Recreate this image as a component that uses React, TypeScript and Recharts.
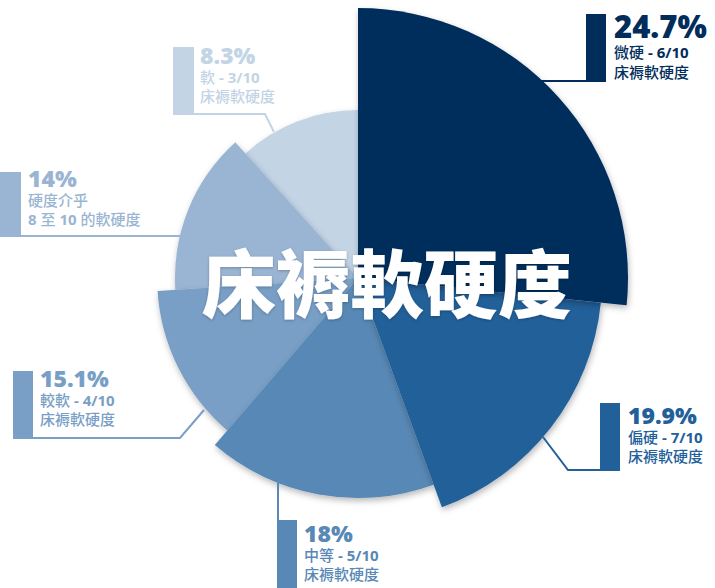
import { FC } from 'react'
import { Cell, Pie, PieChart } from 'recharts'

// slices, clockwise from 12 o'clock
const PERCENT = [24.7, 19.9, 18, 15.1, 14, 8.3]
// angle each slice takes in the drawing (degrees)
const SWEEP = [95.8, 64.1, 60.7, 45.7, 51.6, 42.1]
// relative reach of each slice (largest = 1)
const REACH = [1, 0.904, 0.815, 0.744, 0.678, 0.622]
const LINE1 = ['微硬 - 6/10', '偏硬 - 7/10', '中等 - 5/10', '較軟 - 4/10', '硬度介乎', '軟 - 3/10']
const LINE2 = ['床褥軟硬度', '床褥軟硬度', '床褥軟硬度', '床褥軟硬度', '8 至 10 的軟硬度', '床褥軟硬度']
const TITLE = '床褥軟硬度'

const COLORS = ['#012d5b', '#22609a', '#5888b5', '#799fc6', '#9ab5d3', '#c3d4e5']

const W = 715
const H = 588
const CX = 358
const CY = 278
const MAX_R = 270

interface ILayout {
	bar: [number, number, number, number]
	tx: number
	base: number
	size: number
	leader: [number, number][]
}

const LAYOUT: ILayout[] = [
	{ bar: [586, 14, 20, 68], tx: 614, base: 38, size: 31, leader: [[540, 81], [587, 81]] },
	{ bar: [600, 403, 20, 68], tx: 628, base: 424, size: 23, leader: [[543, 437], [568, 470], [601, 470]] },
	{ bar: [277, 520, 20, 70], tx: 304, base: 542, size: 23, leader: [[278, 483], [278, 521]] },
	{ bar: [13, 371, 20, 68], tx: 40, base: 387, size: 23, leader: [[204, 410], [180, 438], [14, 438]] },
	{ bar: [0, 172, 21, 65], tx: 28, base: 187, size: 23, leader: [[180, 236], [1, 236]] },
	{ bar: [173, 47, 21, 68], tx: 200, base: 64, size: 23, leader: [[274, 132], [265, 114], [174, 114]] },
]

const rows = PERCENT.map((p, i) => ({ name: `${p}%`, sweep: SWEEP[i] }))

// split a line into CJK / latin runs so each gets its own weight
const runs = (s: string) => s.match(/[\u3400-\u9fff]+|[^\u3400-\u9fff]+/g) ?? []
const isCjk = (s: string) => /[\u3400-\u9fff]/.test(s)

const SubLine: FC<{ x: number; y: number; color: string; text: string }> = ({ x, y, color, text }) => (
	<text x={x} y={y} fill={color} fontSize={15}>
		{runs(text).map((r, k) => (
			<tspan
				key={k}
				fontFamily={isCjk(r) ? "'Noto Sans CJK TC', sans-serif" : "'Open Sans', sans-serif"}
				fontWeight={isCjk(r) ? 500 : 700}
			>
				{r}
			</tspan>
		))}
	</text>
)

const App: FC = () => {
	// draw the small slices first so the big ones sit on top
	const order = [5, 4, 3, 2, 1, 0]
	return (
		<div style={{ position: 'absolute', left: 0, top: 0, width: W, height: H, background: '#fff' }}>
			<svg width={0} height={0} style={{ position: 'absolute' }}>
				<defs>
					<filter id="sliceShadow" x="-20%" y="-20%" width="140%" height="140%">
						<feDropShadow dx="1" dy="3" stdDeviation="3" floodColor="#000" floodOpacity="0.28" />
					</filter>
					<filter id="titleShadow" x="-10%" y="-20%" width="120%" height="140%">
						<feDropShadow dx="0" dy="1" stdDeviation="1.5" floodColor="#000" floodOpacity="0.25" />
					</filter>
				</defs>
			</svg>
			<PieChart width={W} height={H} margin={{ top: 0, right: 0, bottom: 0, left: 0 }}>
				{order.map((i) => (
					<Pie
						key={`pie-${i}`}
						data={rows}
						dataKey="sweep"
						cx={CX}
						cy={CY}
						innerRadius={0}
						outerRadius={MAX_R * REACH[i]}
						startAngle={90}
						endAngle={-270}
						stroke="none"
						isAnimationActive={false}
					>
						{rows.map((_r, j) => (
							<Cell
								key={`cell-${i}-${j}`}
								fill={j === i ? COLORS[j] : 'transparent'}
								filter={j === i ? 'url(#sliceShadow)' : undefined}
							/>
						))}
					</Pie>
				))}
			</PieChart>
			<svg width={W} height={H} style={{ position: 'absolute', left: 0, top: 0, pointerEvents: 'none' }}>
				<text
					x={387}
					y={312}
					textAnchor="middle"
					fill="#fff"
					fontSize={74}
					fontWeight={900}
					fontFamily="'Noto Sans CJK TC', sans-serif"
					filter="url(#titleShadow)"
				>
					{TITLE}
				</text>
				{LAYOUT.map((l, i) => {
					const [bx, by, bw, bh] = l.bar
					const gap = l.size > 25 ? 20 : 19
					return (
						<g key={`label-${i}`}>
							<polyline
								points={l.leader.map((p) => p.join(',')).join(' ')}
								fill="none"
								stroke={COLORS[i]}
								strokeWidth={2}
							/>
							<rect x={bx} y={by} width={bw} height={bh} fill={COLORS[i]} />
							<text
								x={l.tx}
								y={l.base}
								fill={COLORS[i]}
								fontSize={l.size}
								fontWeight={800}
								fontFamily="'Open Sans', sans-serif"
							>
								{rows[i].name}
							</text>
							<SubLine x={l.tx} y={l.base + gap} color={COLORS[i]} text={LINE1[i]} />
							<SubLine x={l.tx} y={l.base + gap * 2} color={COLORS[i]} text={LINE2[i]} />
						</g>
					)
				})}
			</svg>
		</div>
	)
}

export default App
